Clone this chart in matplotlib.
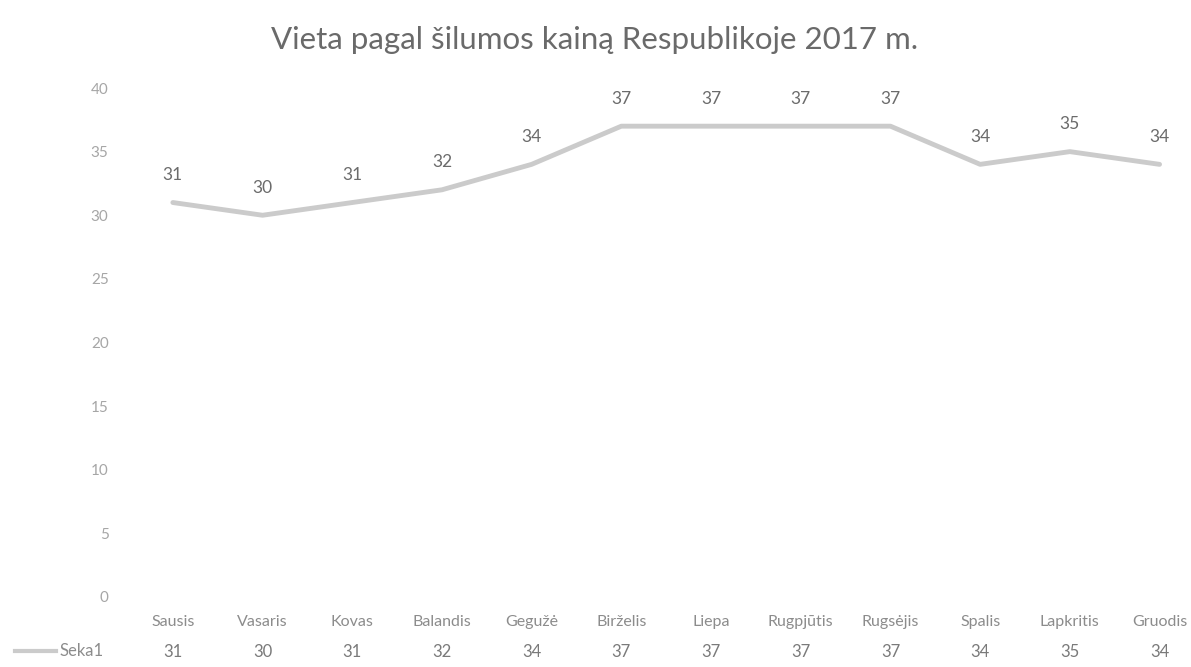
import matplotlib.pyplot as plt
import matplotlib.transforms as mtransforms
import numpy as np

months = ["Sausis", "Vasaris", "Kovas", "Balandis", "Gegužė", "Birželis",
          "Liepa", "Rugpjūtis", "Rugsėjis", "Spalis", "Lapkritis", "Gruodis"]
places = [31, 30, 31, 32, 34, 37, 37, 37, 37, 34, 35, 34]
series_name = "Seka1"
yticks = [0, 5, 10, 15, 20, 25, 30, 35, 40]

plt.rcParams['font.family'] = ['Lato', 'DejaVu Sans']

fig = plt.figure(figsize=(11.91, 6.67), dpi=100, facecolor='white')
# plot area: left edge ~128px, category width ~89.7px, right cropped at 1191
ax = fig.add_axes([128 / 1191, 70 / 667, (1191 - 128) / 1191, (597 - 88) / 667])

x = np.arange(len(months))
ax.plot(x, places, color='#cbcbcb', lw=3.5, solid_capstyle='round',
        solid_joinstyle='round')

for xi, v in zip(x, places):
    ax.annotate(str(v), (xi, v), xytext=(0, 14), textcoords='offset points',
                ha='center', va='bottom', fontsize=12.5, color='#6b6b6b')

ax.set_ylim(0, 40)
ax.set_xlim(-0.5, (1191 - 128) / 89.7 - 0.5)
ax.set_yticks(yticks)
ax.set_yticklabels([str(t) for t in yticks], fontsize=11, color='#a6a6a6')
ax.tick_params(axis='y', length=0, pad=14)
ax.set_xticks([])
for s in ax.spines.values():
    s.set_visible(False)

# data table under the plot
trans = mtransforms.blended_transform_factory(ax.transData, fig.transFigure)
for xi, m, v in zip(x, months, places):
    ax.text(xi, 1 - 622 / 667, m, transform=trans, ha='center', va='center',
            fontsize=11.5, color='#8c8c8c', clip_on=False)
    ax.text(xi, 1 - 652 / 667, str(v), transform=trans, ha='center',
            va='center', fontsize=12, color='#7a7a7a', clip_on=False)

fig.add_artist(plt.Line2D([15 / 1191, 56 / 1191], [1 - 651 / 667] * 2,
                          transform=fig.transFigure, color='#cbcbcb', lw=3))
fig.text(60 / 1191, 1 - 651 / 667, series_name, ha='left', va='center',
         fontsize=12, color='#8c8c8c')

fig.text(595 / 1191, 1 - 40 / 667, "Vieta pagal šilumos kainą Respublikoje 2017 m.",
         ha='center', va='center', fontsize=22.5, color='#6a6a6a')

fig.savefig('out.png', dpi=100, facecolor='white')
